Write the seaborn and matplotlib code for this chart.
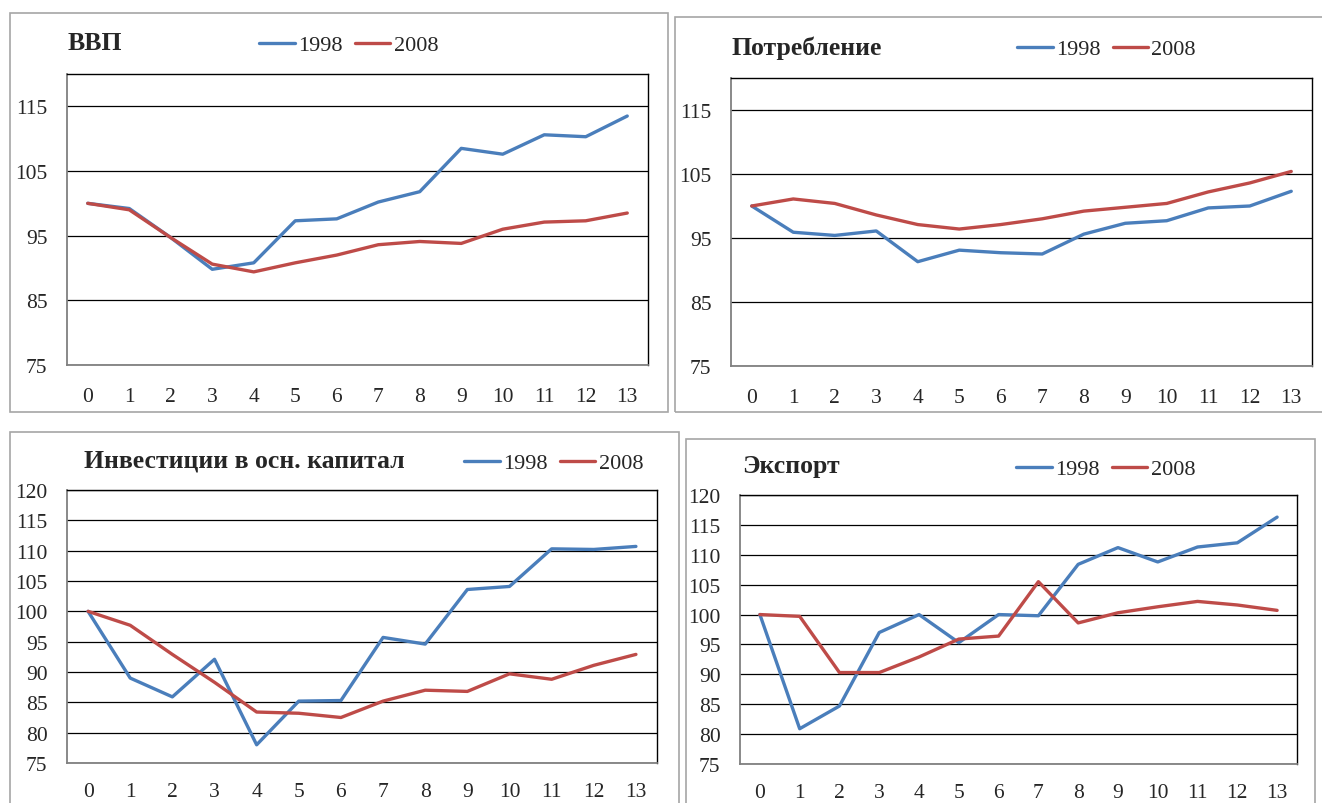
import numpy as np
import pandas as pd
import seaborn as sns
import matplotlib.pyplot as plt
from matplotlib.patches import Rectangle

# данные: индекс (0 = 100) по кварталам после начала кризиса
quarters = list(range(14))

gdp_1998 = [100, 99.2, 94.7, 89.8, 90.8, 97.3, 97.6, 100.2, 101.8, 108.5, 107.6, 110.6, 110.3, 113.5]
gdp_2008 = [100, 99.0, 94.7, 90.6, 89.4, 90.8, 92.0, 93.6, 94.1, 93.8, 96.0, 97.1, 97.3, 98.5]

cons_1998 = [100, 95.9, 95.4, 96.1, 91.3, 93.1, 92.7, 92.5, 95.6, 97.3, 97.7, 99.7, 100.0, 102.3]
cons_2008 = [100, 101.1, 100.4, 98.6, 97.1, 96.4, 97.1, 98.0, 99.2, 99.8, 100.4, 102.2, 103.6, 105.4]

inv_1998 = [100, 89.0, 85.9, 92.1, 78.0, 85.2, 85.3, 95.7, 94.6, 103.6, 104.1, 110.3, 110.2, 110.7]
inv_2008 = [100, 97.7, 92.9, 88.3, 83.4, 83.2, 82.5, 85.2, 87.0, 86.8, 89.7, 88.8, 91.1, 92.9]

exp_1998 = [100, 80.9, 84.7, 97.0, 100.0, 95.3, 100.0, 99.8, 108.4, 111.2, 108.8, 111.3, 112.0, 116.3]
exp_2008 = [100, 99.7, 90.3, 90.3, 92.9, 95.9, 96.4, 105.5, 98.6, 100.3, 101.3, 102.2, 101.6, 100.7]

titles = ["ВВП", "Потребление", "Инвестиции в осн. капитал", "Экспорт"]
years = ["1998", "2008"]

sns.set_style("white")
plt.rcParams['font.family'] = ['Liberation Serif', 'DejaVu Serif']

W, H = 1322, 804
fig = plt.figure(figsize=(W / 100, H / 100), dpi=100)
fig.patch.set_facecolor('white')

# рамка панели, область графика (в пикселях), заголовок, легенда
panels = [
    dict(box=(10, 14, 668, 413), plot=(67, 75, 648, 366), title=(68, 44),
         leg=(259, 46), yticks=[75, 85, 95, 105, 115], xpad=16,
         d98=gdp_1998, d08=gdp_2008),
    dict(box=(675, 18, 1340, 413), plot=(731, 79, 1312, 367), title=(731, 48),
         leg=(1017, 50), yticks=[75, 85, 95, 105, 115], xpad=16,
         d98=cons_1998, d08=cons_2008),
    dict(box=(10, 433, 679, 830), plot=(67, 491, 657, 764), title=(84, 461),
         leg=(464, 464), yticks=list(range(75, 121, 5)), xpad=13.5,
         d98=inv_1998, d08=inv_2008),
    dict(box=(686, 440, 1315, 830), plot=(740, 496, 1297, 765), title=(742, 467),
         leg=(1016, 470), yticks=list(range(75, 121, 5)), xpad=13.5,
         d98=exp_1998, d08=exp_2008),
]

palette = {"1998": "#4A7EBB", "2008": "#BE4B48"}

for p, title in zip(panels, titles):
    x0, y0, x1, y1 = p['box']
    fig.patches.append(Rectangle((x0 / W, 1 - y1 / H), (x1 - x0) / W, (y1 - y0) / H,
                                 transform=fig.transFigure, fill=False,
                                 edgecolor='#a6a6a6', lw=1.2))
    l, t, r, b = p['plot']
    ax = fig.add_axes([l / W, 1 - b / H, (r - l) / W, (b - t) / H])

    df = pd.DataFrame({
        'q': quarters * 2,
        'val': p['d98'] + p['d08'],
        'year': ['1998'] * len(quarters) + ['2008'] * len(quarters),
    })
    sns.lineplot(data=df, x='q', y='val', hue='year', palette=palette,
                 linewidth=2.4, ax=ax, legend=False)

    ax.set_xlim(-0.5, 13.5)
    ax.set_ylim(75, 120)
    ax.set_xticks(quarters)
    ax.set_yticks(p['yticks'])
    ax.set_xlabel('')
    ax.set_ylabel('')
    ax.tick_params(axis='both', length=0, labelsize=15.5)
    ax.tick_params(axis='x', pad=p['xpad'])
    ax.tick_params(axis='y', pad=14)
    ax.yaxis.grid(True, color='black', lw=0.9)
    ax.xaxis.grid(False)
    ax.set_axisbelow(True)
    for s in ['left', 'bottom']:
        ax.spines[s].set_color('#808080')
        ax.spines[s].set_linewidth(1.3)
    for s in ['top', 'right']:
        ax.spines[s].set_color('black')
        ax.spines[s].set_linewidth(1.0)

    tx, ty = p['title']
    fig.text(tx / W, 1 - ty / H, title, fontsize=18.5, fontweight='bold',
             ha='left', va='center')

    lx, ly = p['leg']
    handles = ax.get_lines()[:2]
    fig.legend(handles, years, loc='center left',
               bbox_to_anchor=(lx / W, 1 - ly / H), ncol=2, frameon=False,
               fontsize=16, handlelength=1.6, handletextpad=0.15,
               columnspacing=0.55, borderpad=0, borderaxespad=0)

fig.savefig('out.png', dpi=100)
